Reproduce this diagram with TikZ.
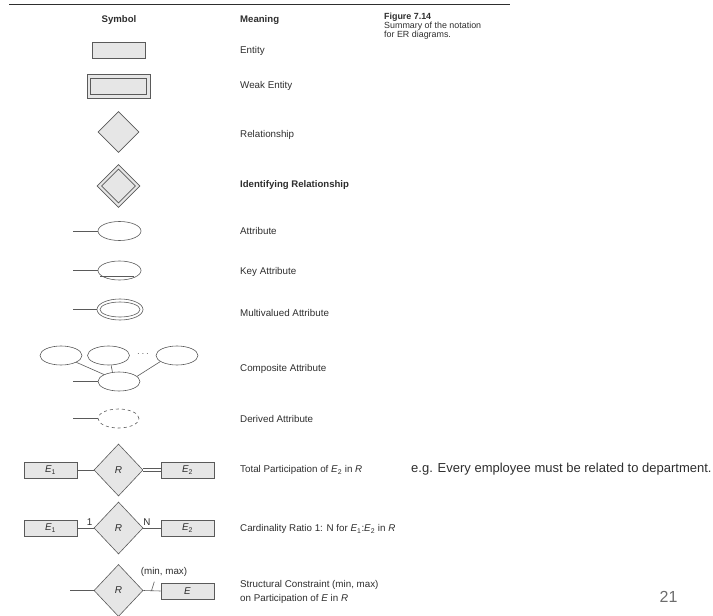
\documentclass[tikz,border=0pt]{standalone}
\usepackage{fontspec}
\setmainfont{Liberation Sans}
\usetikzlibrary{shapes.geometric,calc}
\definecolor{lc}{HTML}{5A5A5A}
\definecolor{fc}{HTML}{E6E6E6}
\definecolor{tc}{HTML}{2E2E2E}
\tikzset{
  ent/.style={draw=lc, fill=fc, line width=0.6pt, minimum width=53pt, minimum height=16pt, inner sep=0pt, text=tc, font=\fontsize{9.8}{11}\selectfont},
  rel/.style={diamond, draw=lc, fill=fc, line width=0.6pt, minimum width=41pt, minimum height=41pt, inner sep=0pt, text=tc, font=\fontsize{10}{11}\selectfont\itshape},
  bigrel/.style={rel, minimum width=49pt, minimum height=52pt},
  attr/.style={ellipse, draw=lc, line width=0.6pt, minimum width=43pt, minimum height=19pt, inner sep=0pt},
  lab/.style={anchor=west, text=tc, inner sep=0pt, font=\fontsize{9.8}{11}\selectfont},
  conn/.style={draw=lc, line width=0.6pt},
}
\begin{document}
\begin{tikzpicture}[x=1pt, y=-1pt]
\useasboundingbox (0,0) rectangle (713,616);
% top rule
\coordinate (ruleA) at (9,4);
\coordinate (ruleB) at (510,4);
\draw[draw=tc, line width=0.8pt] (ruleA) -- (ruleB);
% headers
\node[text=tc, inner sep=0pt, font=\fontsize{9.6}{11}\selectfont\bfseries] (hSym) at (119,20) {Symbol};
\node[lab, font=\fontsize{9.6}{11}\selectfont\bfseries] (hMean) at (240,20) {Meaning};
\node[anchor=north west, inner sep=0pt, text=tc, align=left, font=\fontsize{8.9}{9}\selectfont] (fig) at (384,12.5)
  {\textbf{Figure 7.14}\\Summary of the notation\\for ER diagrams.};
% Entity
\node[ent] (ent1) at (119,50.5) {};
\node[lab] (lEnt) at (240,51) {Entity};
% Weak entity
\node[ent, minimum width=63pt, minimum height=24pt] (weakO) at (118.5,86) {};
\node[ent, minimum width=56pt, minimum height=16pt] (weakI) at (118.5,86) {};
\node[lab] (lWeak) at (240,86) {Weak Entity};
% Relationship
\node[rel] (relA) at (118.5,132) {};
\node[lab] (lRel) at (240,135) {Relationship};
% Identifying relationship
\node[rel, minimum width=43pt, minimum height=43pt] (idO) at (118.5,186) {};
\node[rel, minimum width=34pt, minimum height=34pt] (idI) at (118.5,186) {};
\node[lab, font=\fontsize{9.6}{11}\selectfont\bfseries] (lId) at (240,185) {Identifying Relationship};
% Attribute
\node[attr] (at1) at (119.5,231) {};
\coordinate (at1L) at (73,231);
\draw[conn] (at1L) -- (at1);
\node[lab] (lAt) at (240,231) {Attribute};
% Key attribute
\node[attr] (key) at (119.5,270.5) {};
\coordinate (key0) at (73,270.5);
\draw[conn] (key0) -- (key);
\draw[conn] ($(key.center)+(-19.5,5.5)$) -- ($(key.center)+(14,5.5)$);
\node[lab] (lKey) at (240,272) {Key Attribute};
% Multivalued
\node[attr, minimum width=46pt, minimum height=21pt] (mvO) at (120,309.5) {};
\node[attr, minimum width=40pt, minimum height=15pt] (mvI) at (120,309.5) {};
\coordinate (mv0) at (73,309.5);
\draw[conn] (mv0) -- (mvO);
\node[lab] (lMv) at (240,313) {Multivalued Attribute};
% Composite
\node[attr, minimum width=42pt] (c1) at (61,355.5) {};
\node[attr, minimum width=42pt] (c2) at (108.5,355.5) {};
\node[text=lc, inner sep=0pt] (cdots) at (143,354) {$\cdots$};
\node[attr, minimum width=42pt] (c3) at (177,355.5) {};
\node[attr, minimum width=42pt] (cb) at (119,381.5) {};
\coordinate (cb0) at (73,381.5);
\draw[conn] (cb0) -- (cb);
\draw[conn] (c1.-24) -- (cb.155);
\draw[conn] (c2.-75) -- (cb.125);
\draw[conn] (c3.200) -- (cb.16);
\node[lab] (lComp) at (240,369) {Composite Attribute};
% Derived
\node[attr, dashed, minimum width=41pt] (der) at (118.5,418.5) {};
\coordinate (der0) at (73,418.5);
\draw[conn] (der0) -- (der);
\node[lab] (lDer) at (240,419) {Derived Attribute};
% Total participation
\node[ent] (tE1) at (50.5,470) {\textit{E}\textsubscript{1}};
\node[bigrel] (tR) at (118.5,470) {R};
\node[ent] (tE2) at (187.5,470) {\textit{E}\textsubscript{2}};
\draw[conn] (tE1) -- (tR);
\draw[draw=lc, line width=0.6pt, double=white, double distance=2.2pt] (tR.east) -- (tE2.west);
\node[lab] (lTot) at (240,470) {Total Participation of \textit{E}\textsubscript{2} in \textit{R}};
\node[anchor=west, inner sep=0pt, text=tc, font=\fontsize{13}{15}\selectfont] (eg) at (411,469) {e.g. Every employee must be related to department.};
% Cardinality
\node[ent] (cE1) at (50.5,528) {\textit{E}\textsubscript{1}};
\node[bigrel] (cR) at (118.5,528) {R};
\node[ent] (cE2) at (187.5,528) {\textit{E}\textsubscript{2}};
\draw[conn] (cE1) -- (cR);
\draw[conn] (cR) -- (cE2);
\node[text=tc, inner sep=0pt, font=\fontsize{9.8}{11}\selectfont] (one) at (89.5,522) {1};
\node[text=tc, inner sep=0pt, font=\fontsize{9.8}{11}\selectfont] (enn) at (147,522) {N};
\node[lab] (lCard) at (240,529) {Cardinality Ratio 1: N for \textit{E}\textsubscript{1}:\textit{E}\textsubscript{2} in \textit{R}};
% Structural constraint
\node[bigrel] (sR) at (118.5,590.5) {R};
\node[ent] (sE) at (187.5,591) {\textit{E}};
\coordinate (s0) at (70,590.5);
\draw[conn] (s0) -- (sR);
\draw[conn] (sR.east) -- (sE.west);
\coordinate (tick) at ($(sR.east)!0.47!(sE.west)$);
\draw[conn] (tick) -- ++(2.8,-9);
\node[text=tc, inner sep=0pt, font=\fontsize{9.8}{11}\selectfont] (mm) at (164,572) {(min, max)};
\node[anchor=west, inner sep=0pt, text=tc, align=left, font=\fontsize{9.8}{13.5}\selectfont] (lStr) at (240,592)
  {Structural Constraint (min, max)\\on Participation of \textit{E} in \textit{R}};
% page number
\node[text=gray!85!black, inner sep=0pt, font=\fontsize{16}{18}\selectfont] (pg) at (668.5,597) {21};
\end{tikzpicture}
\end{document}
